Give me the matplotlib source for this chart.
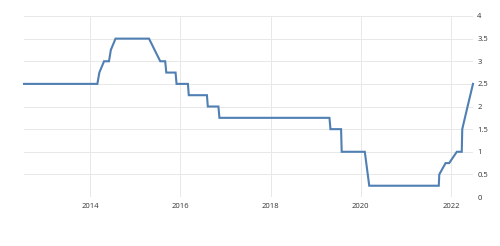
import matplotlib
matplotlib.use("Agg")
import matplotlib.pyplot as plt
import matplotlib.dates as mdates
import pandas as pd

# Vertices of the rate line (date, percent)
dates = ["2012-07-15", "2014-03-01", "2014-03-17", "2014-04-24", "2014-06-03",
         "2014-06-18", "2014-07-26", "2015-04-23", "2015-07-23", "2015-09-01",
         "2015-09-10", "2015-11-24", "2015-12-02", "2016-03-03", "2016-03-10",
         "2016-08-04", "2016-08-11", "2016-11-05", "2016-11-13", "2019-04-23",
         "2019-05-01", "2019-07-26", "2019-07-31", "2020-02-03", "2020-03-10",
         "2021-09-24", "2021-09-28", "2021-11-18", "2021-12-17", "2022-02-17",
         "2022-03-29", "2022-04-02", "2022-05-15", "2022-06-28"]
rates = [2.5, 2.5, 2.75, 3.0, 3.0,
         3.25, 3.5, 3.5, 3.0, 3.0,
         2.75, 2.75, 2.5, 2.5, 2.25,
         2.25, 2.0, 2.0, 1.75, 1.75,
         1.5, 1.5, 1.0, 1.0, 0.25,
         0.25, 0.5, 0.75, 0.75, 1.0,
         1.0, 1.5, 2.0, 2.5]
x_ticks = ["2014-01-01", "2016-01-01", "2018-01-01", "2020-01-01", "2022-01-01"]
x_tick_labels = ["2014", "2016", "2018", "2020", "2022"]
y_ticks = [0, 0.5, 1, 1.5, 2, 2.5, 3, 3.5, 4]
y_tick_labels = ["0", "0.5", "1", "1.5", "2", "2.5", "3", "3.5", "4"]

plt.rcParams['font.family'] = ['Open Sans', 'DejaVu Sans']

fig = plt.figure(figsize=(5.0, 2.46), dpi=100)
ax = fig.add_axes([0.048, 0.199, 0.898, 0.736])

xd = pd.to_datetime(dates)
ax.plot(xd, rates, color="#4f7fb3", linewidth=1.5, solid_joinstyle="miter", clip_on=False)

ax.set_xlim(pd.Timestamp("2012-07-15"), pd.Timestamp("2022-06-28"))
ax.set_ylim(0, 4)

ax.set_xticks(pd.to_datetime(x_ticks))
ax.set_xticklabels(x_tick_labels)
ax.set_yticks(y_ticks)
ax.set_yticklabels(y_tick_labels)
ax.yaxis.tick_right()

ax.tick_params(axis="both", length=0, labelsize=5.5, labelcolor="#333333")
ax.tick_params(axis="x", pad=4)
ax.tick_params(axis="y", pad=3)

ax.grid(True, color="#e8e8e8", linewidth=0.7)
ax.set_axisbelow(True)
for s in ax.spines.values():
    s.set_visible(False)

fig.savefig("out.png", dpi=100, facecolor="white")
